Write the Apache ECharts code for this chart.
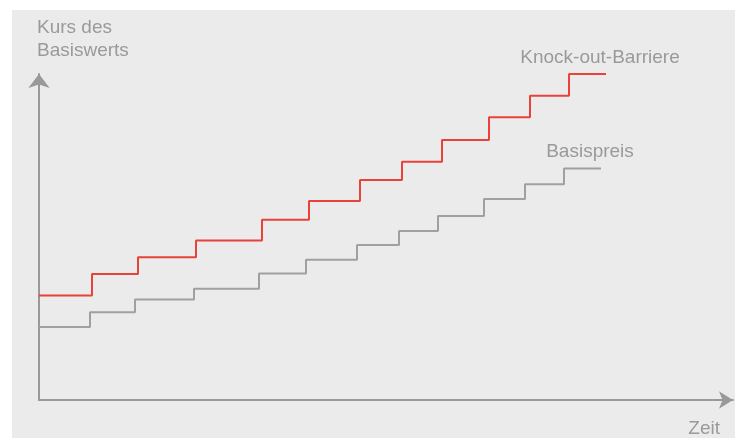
<!DOCTYPE html>
<html>
<head>
<meta charset="utf-8">
<script src="https://cdn.jsdelivr.net/npm/echarts@6/dist/echarts.min.js"></script>
<style>
  html, body { margin: 0; padding: 0; background: #ffffff; }
  #panel { position: absolute; left: 12px; top: 10px; width: 723px; height: 428px; background: #ebebeb; }
  #chart { position: absolute; left: 0; top: 0; width: 735px; height: 438px; }
</style>
</head>
<body>
<div id="panel"></div>
<div id="chart"></div>
<script>
// Time positions (x) where each level begins, and the level of each step (y).
const barrierTime  = [0, 53, 99, 157, 223, 270, 321, 363, 403, 450, 491, 530, 567];
const barrierLevel = [106, 128, 145, 162, 183, 202, 223.5, 242, 264, 287, 309, 331, 331];
const strikeTime   = [0, 51, 96, 155, 220, 267, 318, 360, 399, 445, 486, 525, 562];
const strikeLevel  = [74, 89, 102, 113, 128.5, 142.5, 157.5, 171.7, 186.7, 204, 219, 235, 235];

const barrierName = 'Knock-out-Barriere';
const strikeName  = 'Basispreis';
const yAxisName   = 'Kurs des\nBasiswerts';
const xAxisName   = 'Zeit';

const FONT = 'Liberation Sans, Arial, sans-serif';
const TEXT = '#9a9a9a';

// Step points; the last one carries the series name as its label.
function stepData(times, levels, label, off) {
  return times.map((t, i) => {
    const last = i === times.length - 1;
    return {
      value: [t, levels[i]],
      label: {
        show: last, position: 'top', formatter: label,
        color: TEXT, fontSize: 19, fontFamily: FONT, offset: off
      }
    };
  });
}

const chart = echarts.init(document.getElementById('chart'));
chart.setOption({
  animation: false,
  backgroundColor: 'transparent',
  grid: { left: 39, right: 2, top: 74, bottom: 33 },
  xAxis: {
    type: 'value', min: 0, max: 694,
    name: xAxisName, nameLocation: 'end', nameGap: -13,
    nameTextStyle: { color: TEXT, fontSize: 19, fontFamily: FONT, align: 'right', verticalAlign: 'top', padding: [19, 0, 0, 0] },
    axisLine: { show: true, symbol: ['none', 'arrow'], symbolSize: [13, 14], lineStyle: { color: '#999999', width: 2 } },
    axisTick: { show: false }, axisLabel: { show: false }, splitLine: { show: false }
  },
  yAxis: {
    type: 'value', min: 0, max: 331,
    name: yAxisName, nameLocation: 'end', nameGap: 12,
    nameTextStyle: { color: TEXT, fontSize: 19, fontFamily: FONT, align: 'left', verticalAlign: 'bottom', lineHeight: 23, padding: [0, 0, 0, -2] },
    axisLine: { show: true, symbol: ['none', 'arrow'], symbolSize: [16, 14], lineStyle: { color: '#999999', width: 2 } },
    axisTick: { show: false }, axisLabel: { show: false }, splitLine: { show: false }
  },
  series: [
    {
      name: barrierName, type: 'line', step: 'end', showSymbol: true, symbol: 'circle', symbolSize: 0, clip: false,
      lineStyle: { color: '#e8423a', width: 2 }, itemStyle: { color: '#e8423a' },
      data: stepData(barrierTime, barrierLevel, barrierName, [-6, -2])
    },
    {
      name: strikeName, type: 'line', step: 'end', showSymbol: true, symbol: 'circle', symbolSize: 0, clip: false,
      lineStyle: { color: '#a0a0a0', width: 2 }, itemStyle: { color: '#a0a0a0' },
      data: stepData(strikeTime, strikeLevel, strikeName, [-11, -2])
    }
  ]
});
</script>
</body>
</html>
